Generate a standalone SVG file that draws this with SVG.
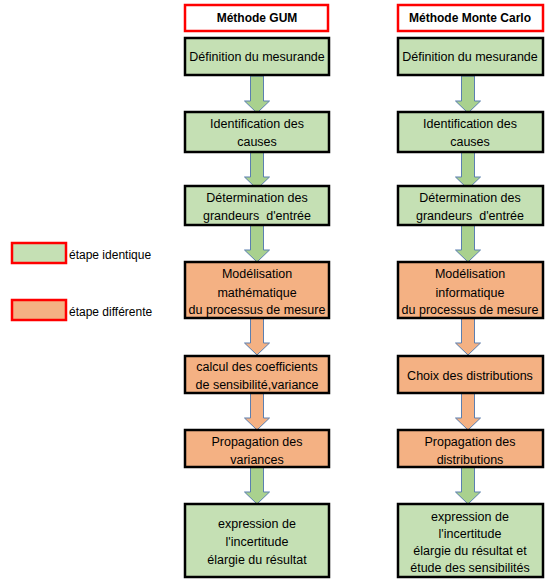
<svg xmlns="http://www.w3.org/2000/svg" width="555" height="582" viewBox="0 0 555 582">
<style>
text{font-family:"Liberation Sans",Arial,sans-serif;font-size:12.5px;fill:#000;text-anchor:middle}
.h{font-weight:bold;font-size:12px}
.l{text-anchor:start;font-size:12px}
.hdr{fill:#fff;stroke:#ff0000;stroke-width:2.5}
.g{fill:#c5e0b4;stroke:#000;stroke-width:2.5}
.o{fill:#f4b183;stroke:#000;stroke-width:2.5}
.lg{fill:#c5e0b4;stroke:#ff0000;stroke-width:2.5}
.lo{fill:#f4b183;stroke:#ff0000;stroke-width:2.5}
.ag{fill:#a9d18e;stroke:#5b7fb0;stroke-width:1}
.ao{fill:#f4b183;stroke:#5b7fb0;stroke-width:1}
</style>
<defs>
<path id="arr" d="M-6.5,0 H6.5 V25 H12.5 L0,37 L-12.5,25 H-6.5 Z"/>
</defs>
<g id="connectors">
<use href="#arr" class="ag" x="257" y="76"/>
<use href="#arr" class="ag" x="257" y="152"/>
<use href="#arr" class="ag" x="257" y="225"/>
<use href="#arr" class="ao" x="257" y="318"/>
<use href="#arr" class="ao" x="257" y="393"/>
<use href="#arr" class="ag" x="257" y="467"/>
<use href="#arr" class="ag" x="468" y="76"/>
<use href="#arr" class="ag" x="468" y="152"/>
<use href="#arr" class="ag" x="468" y="225"/>
<use href="#arr" class="ao" x="468" y="318"/>
<use href="#arr" class="ao" x="468" y="393"/>
<use href="#arr" class="ag" x="468" y="467"/>
</g>
<g id="legend-identique"><rect class="lg" x="12" y="243" width="54" height="20"/><text class="l" x="69" y="259">étape identique</text></g>
<g id="legend-differente"><rect class="lo" x="12" y="300" width="54" height="20"/><text class="l" x="69" y="316">étape différente</text></g>
<g id="gum-header"><rect class="hdr" x="185" y="5" width="143" height="26"/><text class="h" x="257" y="22">Méthode GUM</text></g>
<g id="gum-1"><rect class="g" x="185" y="38" width="144" height="37"/><text x="257" y="61">Définition du mesurande</text></g>
<g id="gum-2"><rect class="g" x="185" y="112" width="144" height="40"/><text x="257" y="128">Identification des</text><text x="257" y="146">causes</text></g>
<g id="gum-3"><rect class="g" x="185" y="186" width="144" height="39"/><text x="257" y="202">Détermination des</text><text x="257" y="220" xml:space="preserve">grandeurs  d'entrée</text></g>
<g id="gum-4"><rect class="o" x="185" y="262" width="144" height="56"/><text x="257" y="278">Modélisation</text><text x="257" y="297">mathématique</text><text x="257" y="314">du processus de mesure</text></g>
<g id="gum-5"><rect class="o" x="185" y="356" width="144" height="37"/><text x="257" y="371">calcul des coefficients</text><text x="257" y="389">de sensibilité,variance</text></g>
<g id="gum-6"><rect class="o" x="185" y="430" width="144" height="37"/><text x="257" y="446">Propagation des</text><text x="257" y="464">variances</text></g>
<g id="gum-7"><rect class="g" x="185" y="504" width="144" height="73"/><text x="257" y="528">expression de</text><text x="257" y="546">l'incertitude</text><text x="257" y="564">élargie du résultat</text></g>
<g id="mc-header"><rect class="hdr" x="398" y="5" width="145" height="26"/><text class="h" x="470" y="22">Méthode Monte Carlo</text></g>
<g id="mc-1"><rect class="g" x="398" y="38" width="145" height="37"/><text x="470" y="61">Définition du mesurande</text></g>
<g id="mc-2"><rect class="g" x="398" y="112" width="145" height="40"/><text x="470" y="128">Identification des</text><text x="470" y="146">causes</text></g>
<g id="mc-3"><rect class="g" x="398" y="186" width="145" height="39"/><text x="470" y="202">Détermination des</text><text x="470" y="220" xml:space="preserve">grandeurs  d'entrée</text></g>
<g id="mc-4"><rect class="o" x="398" y="262" width="145" height="56"/><text x="470" y="278">Modélisation</text><text x="470" y="297">informatique</text><text x="470" y="314">du processus de mesure</text></g>
<g id="mc-5"><rect class="o" x="398" y="356" width="145" height="37"/><text x="470" y="380">Choix des distributions</text></g>
<g id="mc-6"><rect class="o" x="398" y="430" width="145" height="37"/><text x="470" y="446">Propagation des</text><text x="470" y="464">distributions</text></g>
<g id="mc-7"><rect class="g" x="398" y="504" width="145" height="73"/><text x="470" y="521">expression de</text><text x="470" y="538">l'incertitude</text><text x="470" y="555">élargie du résultat et</text><text x="470" y="572">étude des sensibilités</text></g>
</svg>
